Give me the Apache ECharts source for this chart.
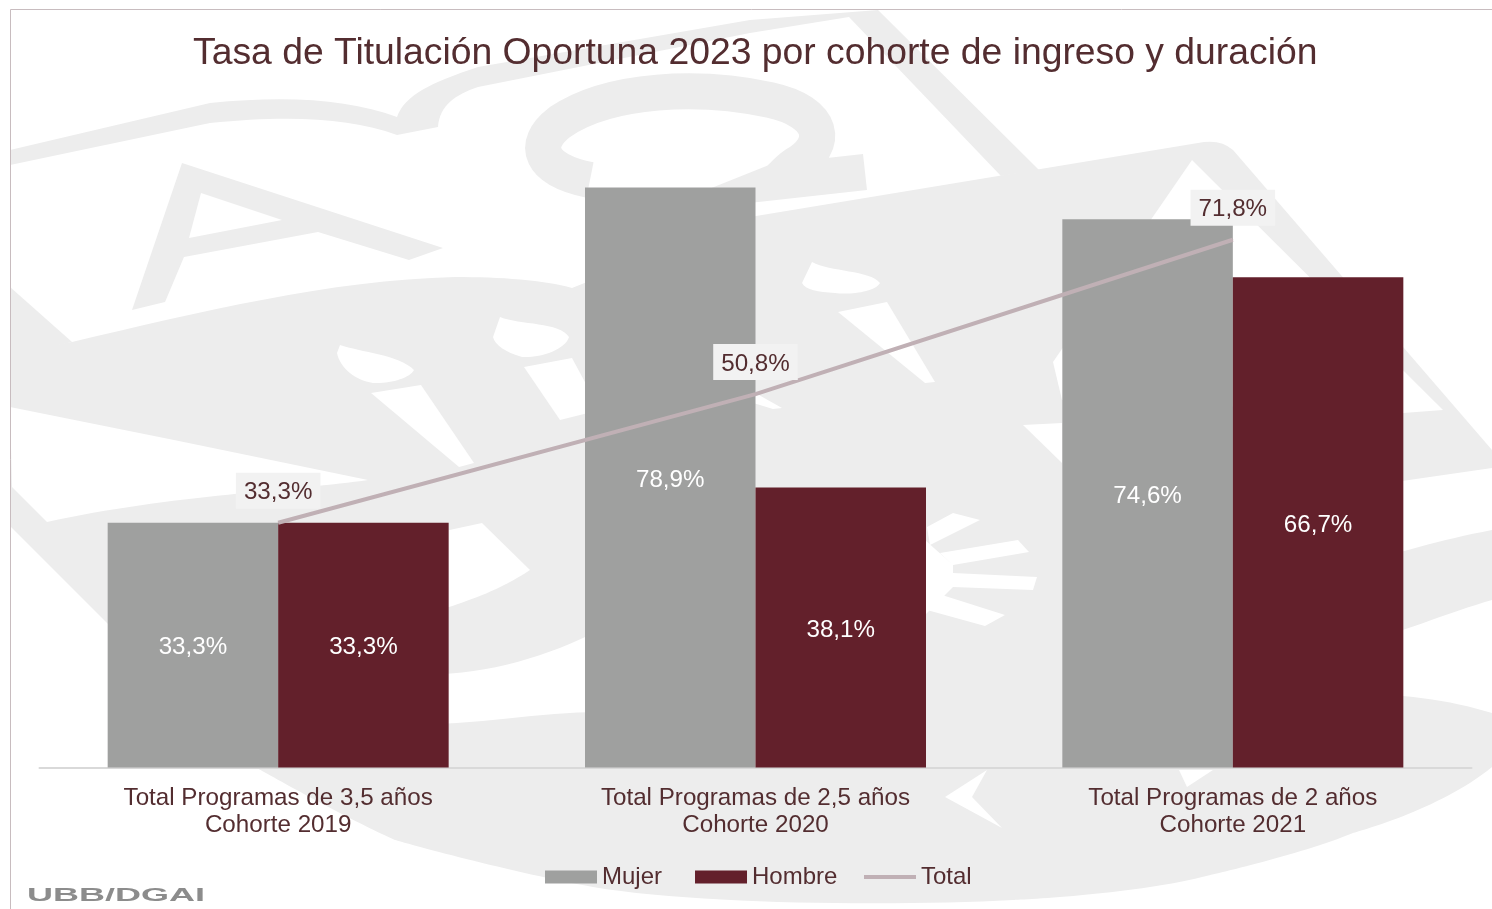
<!DOCTYPE html>
<html><head><meta charset="utf-8">
<style>html,body{margin:0;padding:0;background:#fff}#c{width:1492px;height:909px}</style>
<script src="https://cdn.jsdelivr.net/npm/echarts@6/dist/echarts.min.js"></script>
</head><body><div id="c"></div>
<script>
const categories = ['Total Programas de 3,5 años\nCohorte 2019','Total Programas de 2,5 años\nCohorte 2020','Total Programas de 2 años\nCohorte 2021'];
const mujer = [33.3, 78.9, 74.6];
const hombre = [33.3, 38.1, 66.7];
const total = [33.3, 50.8, 71.8];
const fmt = v => v.toFixed(1).replace('.', ',') + '%';
const GREY = '#ededed', WHITE = '#ffffff', INK = '#532d30', LINE = '#c0b0b5';

// Decorative background crest, approximated with plain shapes
const wmGrey = [
  'M10 353L72 342C200 312 330 280 455 277C500 277 545 280 572 288L750 217L1204 142Q1222 140 1233 150L1492 450L1492 767C1440 810 1353 833 1353 833C1300 855 1202 877 1202 877C1130 895 1013 900 1013 900C900 906 700 905 593 887C500 870 395 840 395 840C340 815 257 768 257 768L107 623L12 528L10 526Z',
  'M10 287L72 342L38 350L10 356Z',
  'M10 150L210 103C290 95 350 100 397 117C405 95 430 83 478 67L750 20L878 10L1039 170L1001 176L849 17L750 33L478 87C455 95 440 105 438 127L397 135C350 118 290 115 210 123L10 165Z',
  'M182 163L443 248L409 260L318 232L184 257L165 302L132 310ZM201 193L189 238L282 220Z'
];
const wmWhite = [
  'M10 407L174 440L368 480C300 490 170 495 47 522L12 487Z',
  'M380 545L482 523L530 570C500 590 470 600 449 607L380 620Z',
  'M400 673C470 680 540 660 600 630L600 712C540 712 480 725 400 725Z',
  'M1340 490L1492 468L1492 530C1440 540 1400 552 1340 570Z',
  'M1340 650C1400 633 1450 612 1492 600L1492 713C1450 700 1400 693 1340 693Z',
  'M337 353L340 345C360 352 400 355 414 370C410 378 390 384 373 383C355 380 340 368 337 353Z',
  'M371 393L421 385L474 463L459 467Z',
  'M493 337L500 317C520 325 560 322 569 337C565 350 540 358 522 357C505 352 495 345 493 337Z',
  'M524 367L572 358L600 410L560 420Z',
  'M802 283L812 262C830 272 870 270 880 283C875 292 850 295 835 293C818 292 806 290 802 283Z',
  'M838 312L887 302L935 382L925 383Z',
  'M750 390L782 408L773 409L750 402Z',
  'M1192 160L1053 362L1062 400L1403 413L1443 410Z',
  'M1023 425L1062 423L1062 463Z',
  'M927 527L953 513L980 520L930 545ZM940 553L1018 540L1029 552L953 565ZM953 573L1037 577L1033 590L953 587ZM942 595L1005 615L985 626L927 610ZM925 540L953 565L953 587L925 615Z',
  'M987 770L945 797L1002 828L972 797Z',
  'M1179 770L1187 787L1213 770Z'
];
const wmRing = 'M590 180C540 170 530 145 560 122C610 88 700 85 770 100C825 112 830 145 795 165C785 172 780 180 775 182L865 172';

const pathEl = (d, fill) => ({type:'path', silent:true, shape:{pathData:d}, style:{fill}});
function renderCrest(){
  return {type:'group', silent:true, children:[
    ...wmGrey.map(d=>pathEl(d, GREY)),
    {type:'path', silent:true, shape:{pathData:wmRing}, style:{fill:'none', stroke:GREY, lineWidth:36}},
    ...wmWhite.map(d=>pathEl(d, WHITE)),
    {type:'rect', silent:true, shape:{x:0,y:0,width:10,height:909}, style:{fill:'#fff'}},
    {type:'rect', silent:true, shape:{x:0,y:0,width:1492,height:9}, style:{fill:'#fff'}},
    {type:'line', silent:true, shape:{x1:10.5,y1:9.5,x2:1492,y2:9.5}, style:{stroke:'#c8bcbf', lineWidth:1}},
    {type:'line', silent:true, shape:{x1:10.5,y1:9.5,x2:10.5,y2:909}, style:{stroke:'#c8bcbf', lineWidth:1}}
  ]};
}

const chart = echarts.init(document.getElementById('c'), null, {renderer:'canvas'});
const labelBase = {fontFamily:'Liberation Sans', fontSize:24.2};
const legendText = {fontFamily:'Liberation Sans', fontSize:24, color:INK};
chart.setOption({
  animation:false,
  backgroundColor:'#fff',
  textStyle:{fontFamily:'Liberation Sans'},
  title:{text:'Tasa de Titulación Oportuna 2023 por cohorte de ingreso y duración', left:188, top:30,
    textStyle:{fontFamily:'Liberation Sans', fontSize:37.3, fontWeight:'normal', color:INK}},
  legend:[
    {left:540, top:860, itemWidth:52, itemHeight:13, itemGap:33, textStyle:legendText,
      data:[{name:'Mujer',icon:'rect'},{name:'Hombre',icon:'rect'}]},
    {left:859, top:860, itemWidth:52, itemHeight:13, textStyle:legendText,
      data:[{name:'Total',icon:'path://M0 0L0 0ZM52 13L52 13ZM0 4.5H52V8.5H0Z', itemStyle:{color:LINE}}]}
  ],
  grid:{left:39.5, width:1432, top:32.5, height:735},
  xAxis:{type:'category', data:categories,
    axisLine:{lineStyle:{color:'#d9d9d9', width:2}}, axisTick:{show:false},
    axisLabel:{...labelBase, color:INK, margin:17.5, lineHeight:27, interval:0}},
  yAxis:{type:'value', min:0, max:100, show:false, splitLine:{show:false}},
  series:[
    {name:'crest', type:'custom', coordinateSystem:'none', data:[0], z:-1, silent:true, renderItem:renderCrest},
    {name:'Mujer', type:'bar', data:mujer, barWidth:170.5, barGap:0, itemStyle:{color:'#9fa09f'},
      label:{show:true, position:'inside', offset:[0,2.5], ...labelBase, color:'#fff', formatter:p=>fmt(p.value)}},
    {name:'Hombre', type:'bar', data:hombre, barWidth:170.5, barGap:0, itemStyle:{color:'#63202b'},
      label:{show:true, position:'inside', offset:[0,2.5], ...labelBase, color:'#fff', formatter:p=>fmt(p.value)}},
    {name:'Total', type:'line', data:total, symbol:'circle', symbolSize:1, z:5, lineStyle:{color:LINE, width:4}, itemStyle:{color:LINE},
      label:{show:true, position:'top', distance:13.5, ...labelBase, color:INK, backgroundColor:'#f2f2f2', padding:[8,8,4,8], lineHeight:24, formatter:p=>fmt(p.value)}}
  ],
  graphic:{elements:[
    {type:'text', silent:true, z:10, x:27, y:887, scaleX:2, style:{text:'UBB/DGAI', font:'bold 18px "Liberation Sans"', fill:'#8c8c8c'}}
  ]}
});
</script></body></html>
